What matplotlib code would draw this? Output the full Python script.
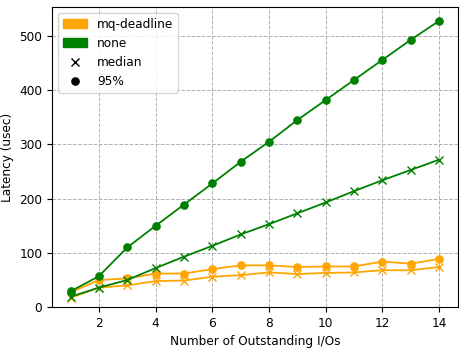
import matplotlib
matplotlib.use('Agg')
import matplotlib.pyplot as plt
from matplotlib.patches import Patch
from matplotlib.lines import Line2D

# Data
ios = [1, 2, 3, 4, 5, 6, 7, 8, 9, 10, 11, 12, 13, 14]
mq_median = [17, 36, 40, 48, 49, 56, 59, 64, 61, 63, 64, 68, 68, 74]
mq_p95 = [27, 50, 53, 62, 62, 70, 77, 77, 74, 75, 75, 84, 80, 89]
none_median = [19, 36, 50, 72, 93, 113, 134, 153, 173, 193, 214, 234, 253, 272]
none_p95 = [29, 57, 110, 150, 189, 228, 268, 305, 345, 382, 419, 456, 493, 528]

plt.rcParams['font.size'] = 8.7
plt.rcParams['lines.linewidth'] = 1.3
plt.rcParams['lines.markersize'] = 5.2

fig, ax = plt.subplots(figsize=(4.65, 3.49), dpi=100)

ax.plot(ios, mq_median, color='orange', marker='x')
ax.plot(ios, mq_p95, color='orange', marker='o')
ax.plot(ios, none_median, color='green', marker='x')
ax.plot(ios, none_p95, color='green', marker='o')

ax.set_ylim(bottom=0)
ax.grid(True, linestyle='--', color='#b0b0b0', linewidth=0.7)
ax.set_xlabel('Number of Outstanding I/Os')
ax.set_ylabel('Latency (usec)')

handles = [
    Patch(color='orange', label='mq-deadline'),
    Patch(color='green', label='none'),
    Line2D([], [], color='black', marker='x', linestyle='none', label='median'),
    Line2D([], [], color='black', marker='o', linestyle='none', label='95%'),
]
ax.legend(handles=handles, loc='upper left')

fig.subplots_adjust(left=0.112, right=0.984, top=0.980, bottom=0.120)
fig.savefig('out.png')
